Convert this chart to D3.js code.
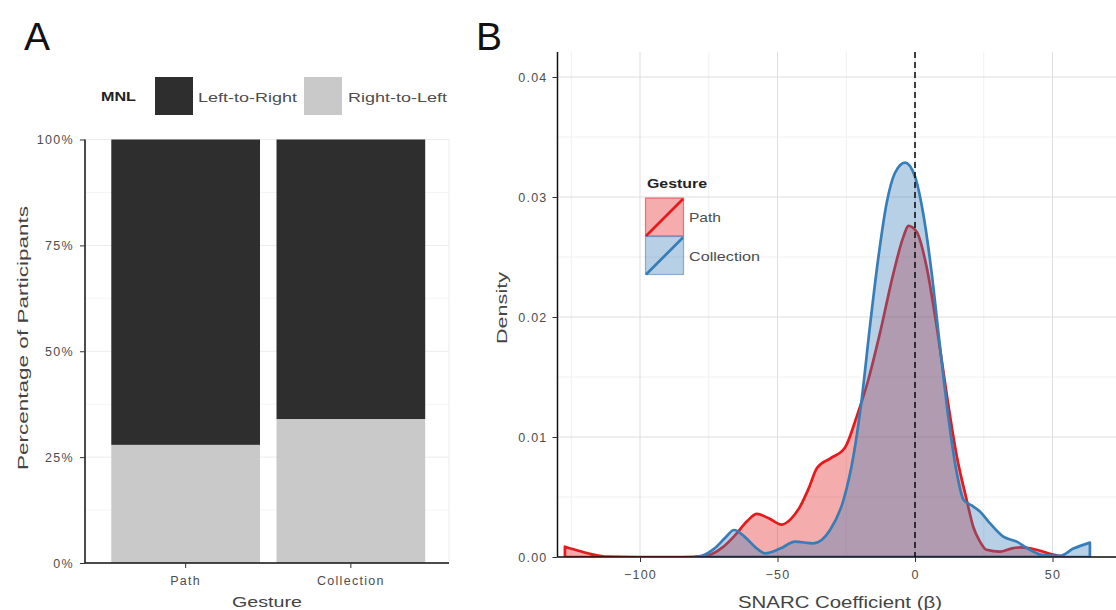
<!DOCTYPE html>
<html>
<head>
<meta charset="utf-8">
<script src="https://cdn.jsdelivr.net/npm/d3@7"></script>
<style>
  html, body { margin: 0; padding: 0; background: #fff; }
  svg { display: block; font-family: "Liberation Sans", Arial, sans-serif; }
</style>
</head>
<body>
<svg id="chart" width="1116" height="610"></svg>
<script>
// ---------- DATA ----------
// Panel A
const gestures = ["Path", "Collection"];
const mnlLevels = ["Left-to-Right", "Right-to-Left"];
const leftToRight = [0.721, 0.660];
const rightToLeft = [0.279, 0.340];
const pctTicks = [0, 0.25, 0.5, 0.75, 1];
const pctTickLabels = ["0%", "25%", "50%", "75%", "100%"];

// Panel B
const seriesNames = ["Path", "Collection"];
const pathBeta = [-127.3, -122, -117, -112, -100, -85, -76, -70, -65.5, -61, -57.5, -53, -48.5, -45, -41.8, -38.5, -35.7, -30.9, -25.5, -21.2, -17, -12.7, -7.9, -4.2, -2.4, 0.6, 4.2, 7.9, 11.5, 15.2, 18.8, 21.2, 23.6, 26, 30.9, 35, 38.2, 44.2, 50.2, 54];
const pathDensity = [0.00086, 0.0005, 0.0002, 0.00003, 0, 0, 0.0001, 0.0008, 0.0018, 0.003, 0.0036, 0.0032, 0.0027, 0.0032, 0.0042, 0.0058, 0.0074, 0.0082, 0.0091, 0.0117, 0.01475, 0.0187, 0.0236, 0.0267, 0.0276, 0.0271, 0.0242, 0.0192, 0.0136, 0.0084, 0.00475, 0.0025, 0.0013, 0.0006, 0.00045, 0.0007, 0.0008, 0.0006, 0.0002, 0.00003];
const collBeta = [-80, -77.5, -73, -69, -65.8, -62, -58, -54.5, -49, -43.6, -37, -30.9, -26, -22.4, -19.4, -16.4, -13.3, -10.3, -7.3, -3.6, 0, 3, 6.1, 9.1, 12.1, 15.2, 17.6, 20.6, 23.6, 27.3, 32.1, 37, 41.8, 46.7, 52.7, 57.6, 63.6];
const collDensity = [0.00002, 0.0001, 0.0007, 0.0016, 0.00225, 0.0017, 0.0008, 0.0003, 0.0007, 0.00128, 0.00114, 0.00225, 0.00475, 0.0084, 0.0131, 0.0192, 0.025, 0.0295, 0.032, 0.03286, 0.0317, 0.0286, 0.0236, 0.0175, 0.0117, 0.007, 0.0048, 0.0043, 0.0038, 0.0028, 0.0017, 0.00128, 0.0006, 0.00015, 0.0001, 0.0007, 0.0012];
const betaTicks = [-100, -50, 0, 50];
const betaMinor = [-125, -75, -25, 25, 75];
const densityTicks = [0, 0.01, 0.02, 0.03, 0.04];
const densityMinor = [0.005, 0.015, 0.025, 0.035];

// ---------- STYLE ----------
const darkFill = "#2e2e2e", lightFill = "#c9c9c9";
const red = "#e41a1c", blue = "#377eb8";
const fillAlpha = 0.36;
const tickColor = "#4d4d4d";
const titleColor = "#444";

const svg = d3.select("#chart");

function label(g, txt, x, y, opts) {
  const t = g.append("text").attr("x", x).attr("y", y).text(txt)
    .attr("font-size", opts.size || 12)
    .attr("fill", opts.fill || tickColor)
    .attr("text-anchor", opts.anchor || "start")
    .attr("dominant-baseline", "central");
  if (opts.weight) t.attr("font-weight", opts.weight);
  if (opts.ls) t.attr("letter-spacing", opts.ls);
  if (opts.len) t.attr("textLength", opts.len).attr("lengthAdjust", "spacingAndGlyphs");
  if (opts.rotate) t.attr("transform", `rotate(-90, ${x}, ${y})`);
  return t;
}

// ================= PANEL A =================
const A = svg.append("g");
const xA = d3.scaleBand().domain(gestures).range([86.5, 450]).paddingInner(0.1).paddingOuter(0.15);
const yA = d3.scaleLinear().domain([0, 1]).range([563, 139.5]);

// grid
A.append("g").selectAll("line.minor").data([0.125, 0.375, 0.625, 0.875]).join("line")
  .attr("x1", 85).attr("x2", 449).attr("y1", d => yA(d)).attr("y2", d => yA(d))
  .attr("stroke", "#f4f4f4").attr("stroke-width", 1);
A.append("g").selectAll("line.major").data(pctTicks).join("line")
  .attr("x1", 85).attr("x2", 449).attr("y1", d => yA(d)).attr("y2", d => yA(d))
  .attr("stroke", "#ececec").attr("stroke-width", 1);
A.append("line").attr("x1", 449).attr("x2", 449).attr("y1", 139.5).attr("y2", 563)
  .attr("stroke", "#ececec");

// bars
const barRows = gestures.map((g, i) => ({ g, rtl: rightToLeft[i], ltr: leftToRight[i] }));
A.append("g").selectAll("rect.rtl").data(barRows).join("rect")
  .attr("x", d => xA(d.g)).attr("width", xA.bandwidth())
  .attr("y", d => yA(d.rtl)).attr("height", d => yA(0) - yA(d.rtl))
  .attr("fill", lightFill);
A.append("g").selectAll("rect.ltr").data(barRows).join("rect")
  .attr("x", d => xA(d.g)).attr("width", xA.bandwidth())
  .attr("y", d => yA(d.rtl + d.ltr)).attr("height", d => yA(d.rtl) - yA(d.rtl + d.ltr))
  .attr("fill", darkFill);

// axes
const axAy = A.append("g").attr("transform", "translate(85,0)")
  .call(d3.axisLeft(yA).tickValues(pctTicks).tickFormat((d, i) => pctTickLabels[i]).tickSize(5).tickPadding(6));
const axAx = A.append("g").attr("transform", "translate(0,563)")
  .call(d3.axisBottom(xA).tickSize(5).tickPadding(8));
[axAy, axAx].forEach(ax => {
  ax.select(".domain").attr("stroke", "#111").attr("stroke-width", 1.5);
  ax.selectAll(".tick line").attr("stroke", "#333").attr("stroke-width", 1);
  ax.selectAll(".tick text").attr("fill", tickColor).attr("font-size", 12.5)
    .attr("letter-spacing", 1.3).attr("font-family", "Liberation Sans, Arial, sans-serif");
});
axAy.select(".domain").attr("d", "M0,139.5V563");
axAx.select(".domain").attr("d", "M85,0H449");

// titles
label(A, "Percentage of Participants", 22, 338, { size: 15.5, fill: titleColor, anchor: "middle", rotate: true, len: 264 });
label(A, "Gesture", 267, 601, { size: 15.5, fill: titleColor, anchor: "middle", len: 70 });
svg.append("text").attr("x", 24).attr("y", 50).text("A").attr("font-size", 39).attr("fill", "#111");

// legend A
label(A, "MNL", 101, 97, { size: 12, fill: "#222", weight: "bold", len: 35 });
const legA = [
  { name: mnlLevels[0], fill: darkFill, kx: 155, tx: 198 },
  { name: mnlLevels[1], fill: lightFill, kx: 304, tx: 348 }
];
legA.forEach(d => {
  A.append("rect").attr("x", d.kx).attr("y", 77).attr("width", 38).attr("height", 38).attr("fill", d.fill);
  label(A, d.name, d.tx, 97, { size: 13.5, fill: tickColor, len: 99 });
});

// ================= PANEL B =================
const B = svg.append("g");
const xB = d3.scaleLinear().domain([-100, 50]).range([640, 1052.5]);
const yB = d3.scaleLinear().domain([0, 0.04]).range([557, 77]);
const pLeft = 557.5, pRight = 1116, pTop = 52, pBottom = 557;

svg.append("defs").append("clipPath").attr("id", "clipB")
  .append("rect").attr("x", pLeft).attr("y", pTop).attr("width", pRight - pLeft).attr("height", pBottom - pTop);

const grid = B.append("g");
grid.selectAll("line.vm").data(betaMinor).join("line")
  .attr("x1", d => xB(d)).attr("x2", d => xB(d)).attr("y1", pTop).attr("y2", pBottom)
  .attr("stroke", "#f0f0f0");
grid.selectAll("line.hm").data(densityMinor).join("line")
  .attr("x1", pLeft).attr("x2", pRight).attr("y1", d => yB(d)).attr("y2", d => yB(d))
  .attr("stroke", "#f0f0f0");
grid.selectAll("line.vM").data(betaTicks).join("line")
  .attr("x1", d => xB(d)).attr("x2", d => xB(d)).attr("y1", pTop).attr("y2", pBottom)
  .attr("stroke", "#dedede");
grid.selectAll("line.hM").data(densityTicks).join("line")
  .attr("x1", pLeft).attr("x2", pRight).attr("y1", d => yB(d)).attr("y2", d => yB(d))
  .attr("stroke", "#dedede");

const curves = B.append("g").attr("clip-path", "url(#clipB)");
const lineGen = d3.line().x(d => xB(d[0])).y(d => yB(d[1])).curve(d3.curveMonotoneX);
function densityPath(betas, dens) {
  const pts = betas.map((b, i) => [b, dens[i]]);
  const body = lineGen(pts).replace(/^M/, "L");
  const x0 = xB(betas[0]), xn = xB(betas[betas.length - 1]);
  return `M${x0},${yB(0)}` + body + `L${xn},${yB(0)}Z`;
}
const series = [
  { name: seriesNames[0], betas: pathBeta, dens: pathDensity, color: red },
  { name: seriesNames[1], betas: collBeta, dens: collDensity, color: blue }
];
series.forEach(s => {
  curves.append("path").attr("d", densityPath(s.betas, s.dens))
    .attr("fill", s.color).attr("fill-opacity", fillAlpha)
    .attr("stroke", s.color).attr("stroke-width", 2.7).attr("stroke-linejoin", "round");
});

// dashed zero line
curves.append("line").attr("x1", xB(0)).attr("x2", xB(0)).attr("y1", pTop).attr("y2", pBottom)
  .attr("stroke", "#111").attr("stroke-width", 1.6).attr("stroke-dasharray", "6,4");

// axes B
const axBy = B.append("g").attr("transform", `translate(${pLeft},0)`)
  .call(d3.axisLeft(yB).tickValues(densityTicks).tickFormat(d3.format(".2f")).tickSize(5).tickPadding(5));
const axBx = B.append("g").attr("transform", `translate(0,${pBottom})`)
  .call(d3.axisBottom(xB).tickValues(betaTicks).tickFormat(d3.format("d")).tickSize(5).tickPadding(8));
[axBy, axBx].forEach(ax => {
  ax.select(".domain").attr("stroke", "#111").attr("stroke-width", 1.5);
  ax.selectAll(".tick line").attr("stroke", "#333").attr("stroke-width", 1);
  ax.selectAll(".tick text").attr("fill", tickColor).attr("font-size", 12.5)
    .attr("letter-spacing", 1.2).attr("font-family", "Liberation Sans, Arial, sans-serif");
});
axBy.select(".domain").attr("d", `M0,${pTop}V${pBottom}`);
axBx.select(".domain").attr("d", `M${pLeft},0H${pRight}`);

label(B, "Density", 501, 308, { size: 15.5, fill: titleColor, anchor: "middle", rotate: true, len: 72 });
label(B, "SNARC Coefficient (β)", 840, 602, { size: 16.5, fill: titleColor, anchor: "middle", len: 204 });
svg.append("text").attr("x", 476).attr("y", 50).text("B").attr("font-size", 39).attr("fill", "#111");

// legend B
label(B, "Gesture", 647, 184, { size: 12, fill: "#222", weight: "bold", len: 60 });
series.forEach((s, i) => {
  const ky = 198 + i * 38.5;
  const k = B.append("g");
  k.append("rect").attr("x", 645.5).attr("y", ky).attr("width", 38).attr("height", 38)
    .attr("fill", s.color).attr("fill-opacity", fillAlpha)
    .attr("stroke", s.color).attr("stroke-opacity", 0.55).attr("stroke-width", 1.2);
  k.append("line").attr("x1", 646).attr("y1", ky + 38).attr("x2", 683).attr("y2", ky + 1)
    .attr("stroke", s.color).attr("stroke-width", 2.7);
  label(B, s.name, 689, ky + 19.5, { size: 13.5, fill: tickColor, len: s.name === "Path" ? 32 : 71 });
});
</script>
</body>
</html>
